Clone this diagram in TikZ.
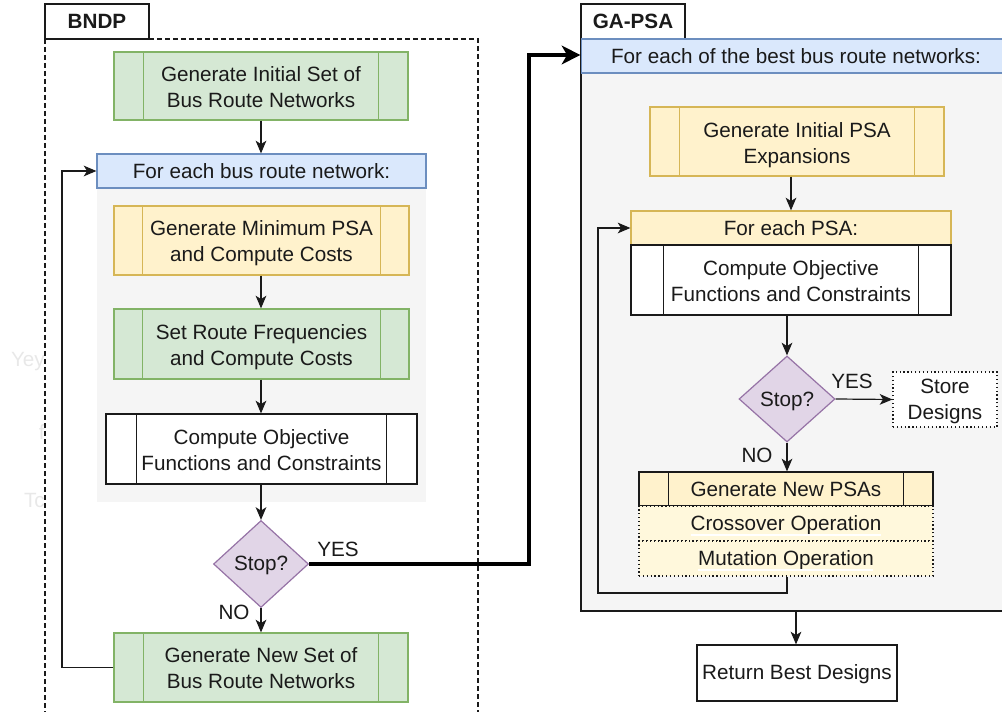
\documentclass[tikz,border=0pt]{standalone}
\usepackage{fontspec}
\setmainfont{Liberation Sans}
\usetikzlibrary{arrows.meta,shapes.geometric,calc}

\definecolor{gfill}{HTML}{D5E8D4}
\definecolor{gline}{HTML}{82B366}
\definecolor{yfill}{HTML}{FFF2CC}
\definecolor{yline}{HTML}{D6B656}
\definecolor{lyfill}{HTML}{FFF8DC}
\definecolor{bfill}{HTML}{DAE8FC}
\definecolor{bline}{HTML}{6C8EBF}
\definecolor{pfill}{HTML}{E1D5E7}
\definecolor{pline}{HTML}{9673A6}
\definecolor{panel}{HTML}{F5F5F5}
\definecolor{ink}{HTML}{1A1A1A}

% vertical side bars of a "predefined process" box
\newcommand\sidebars[3][ink]{%
  \draw[#1,line width=0.9pt]
    ([xshift=#3*0.75pt]#2.north west) -- ([xshift=#3*0.75pt]#2.south west)
    ([xshift=-#3*0.75pt]#2.north east) -- ([xshift=-#3*0.75pt]#2.south east);}

% centred text block, lowered slightly while keeping its natural size
\newcommand\txt[2][2.2pt]{\raisebox{-#1}[\height][\depth]{%
  \begin{tabular}{@{}c@{}}#2\end{tabular}}}

\tikzset{
  sz/.style 2 args={minimum width=#1*0.75pt, minimum height=#2*0.75pt},
  base/.style={rectangle, inner sep=0pt, align=center, line width=0.9pt, text=ink},
  greenbox/.style={base, fill=gfill, draw=gline},
  yellowbox/.style={base, fill=yfill, draw=yline},
  bluebox/.style={base, fill=bfill, draw=bline},
  plainbox/.style={base, fill=white, draw=ink},
  tab/.style={base, fill=white, draw=ink, font=\fontsize{15.5}{19.5}\selectfont\bfseries},
  opbox/.style={base, fill=lyfill, draw=ink, dotted},
  decision/.style={diamond, inner sep=0pt, aspect=1.1, fill=pfill, draw=pline,
    line width=0.9pt, text=ink},
  flow/.style={draw=ink, line width=0.9pt,
    -{Stealth[length=9.5pt,width=8pt,inset=2.5pt]}},
  bigflow/.style={draw=black, line width=2.4pt,
    -{Stealth[length=14pt,width=14pt,inset=4pt]}},
  lbl/.style={inner sep=0pt, text=ink},
  ghost/.style={inner sep=0pt, text=black!9, anchor=east},
}

\begin{document}
\begin{tikzpicture}[x=0.75pt, y=-0.75pt, font=\fontsize{15.5}{19.5}\selectfont]
\useasboundingbox (0,0) rectangle (1002,712);
\clip (0,0) rectangle (1002,712);

% faint stray labels on the far left
\node[ghost] (gh1) at (45,362) {Yey};
\node[ghost] (gh2) at (45,432) {f};
\node[ghost] (gh3) at (45,500) {Tc};

% ---------------- BNDP ----------------
\node[tab, sz={104}{35}] (bndp) at (97,21.5) {BNDP};
\draw[ink, line width=0.9pt, dash pattern=on 3.5pt off 2.5pt]
  (45,39) -- (478,39) -- (478,720) (45,39) -- (45,720);

\node[greenbox, sz={294}{68}] (g1) at (261,86)
  {\txt{Generate Initial Set of\\Bus Route Networks}};
\sidebars[gline]{g1}{30}

\node[rectangle, fill=panel, sz={329}{314}] (panelA) at (261.5,345) {};
\node[bluebox, sz={329}{34}] (hdrA) at (261.5,171) {For each bus route network:};

\node[yellowbox, sz={295}{69}] (y1) at (261.5,240.5)
  {\txt{Generate Minimum PSA\\and Compute Costs}};
\sidebars[yline]{y1}{29}
\node[greenbox, sz={295}{70}] (g2) at (261.5,344)
  {\txt{Set Route Frequencies\\and Compute Costs}};
\sidebars[gline]{g2}{29}
\node[plainbox, sz={311}{70}] (w1) at (261.5,449)
  {\txt{Compute Objective\\Functions and Constraints}};
\sidebars{w1}{31}

\node[decision, sz={95}{87}] (d1) at (261,564) {\txt[1.2pt]{Stop?}};
\node[greenbox, sz={294}{69}] (g3) at (261,667.5)
  {\txt{Generate New Set of\\Bus Route Networks}};
\sidebars[gline]{g3}{30}

\node[lbl] (yes1) at (338,549) {YES};
\node[lbl] (no1) at (234,612) {NO};

\coordinate (loopA) at (62,0);
\coordinate (jump) at (529,0);

\draw[flow] (g1.south -| d1.north) -- (hdrA.north -| d1.north);
\draw[flow] (y1.south -| d1.north) -- (g2.north -| d1.north);
\draw[flow] (g2.south -| d1.north) -- (w1.north -| d1.north);
\draw[flow] (w1.south -| d1.north) -- (d1.north);
\draw[flow] (d1.south) -- (g3.north -| d1.south);
\draw[flow] (g3.west) -- (g3.west -| loopA) -- (hdrA.west -| loopA) -- (hdrA.west);

% ---------------- GA-PSA ----------------
\node[tab, sz={104}{35}] (gapsa) at (633,21.5) {GA-PSA};
\node[rectangle, fill=panel, draw=ink, line width=0.9pt, sz={430}{572}] (panelB)
  at (796,325) {};
\node[bluebox, sz={430}{34}] (hdrB) at (796,56)
  {For each of the best bus route networks:};
\draw[ink, line width=0.9pt] (hdrB.north west) -- (hdrB.south west);

\node[yellowbox, sz={294}{69}] (y2) at (797,141.5)
  {\txt[2.8pt]{Generate Initial PSA\\Expansions}};
\sidebars[yline]{y2}{30}

\node[yellowbox, sz={320}{34}] (hdrC) at (791,228) {For each PSA:};
\node[plainbox, sz={320}{70}] (w2) at (791,280)
  {\txt{Compute Objective\\Functions and Constraints}};
\sidebars{w2}{33}

\node[decision, sz={96}{86}] (d2) at (787,399) {\txt[1.5pt]{Stop?}};
\node[base, fill=white, draw=ink, dotted, sz={104}{55}] (store) at (945,399.5)
  {\txt[1.5pt]{Store\\Designs}};
\node[lbl] (yes2) at (852,381) {YES};
\node[lbl] (no2) at (757,455) {NO};

\node[yellowbox, draw=ink, sz={294}{34}] (gn) at (786,489) {Generate New PSAs};
\sidebars{gn}{30}
\node[opbox, sz={294}{35}] (cross) at (786,523.5) {\txt[1.5pt]{Crossover Operation}};
\node[opbox, sz={294}{35}] (mut) at (786,558.5) {\txt[1.5pt]{Mutation Operation}};
\draw[white, line width=0.9pt] (691,535) -- (881,535) (698,570) -- (873,570);

\node[plainbox, sz={200}{56}] (ret) at (797,673) {\txt[0.8pt]{Return Best Designs}};

\coordinate (loopB) at (598,593);

\draw[flow] (hdrC.north |- y2.south) -- (hdrC.north);
\draw[flow] (d2.north |- w2.south) -- (d2.north);
\draw[flow] (d2.east) -- (store.west);
\draw[flow] (d2.south) -- (gn.north -| d2.south);
\draw[flow] (mut.south -| d2.south) -- (loopB -| d2.south) -- (loopB) -- (hdrC.west -| loopB) -- (hdrC.west);
\draw[flow] (panelB.south) -- (ret.north -| panelB.south);

% YES branch of the BNDP loop feeds GA-PSA
\draw[bigflow] (d1.east) -- (d1.east -| jump) -- ([yshift=0.75pt]hdrB.west -| jump) -- ([yshift=0.75pt]hdrB.west);
\end{tikzpicture}
\end{document}
